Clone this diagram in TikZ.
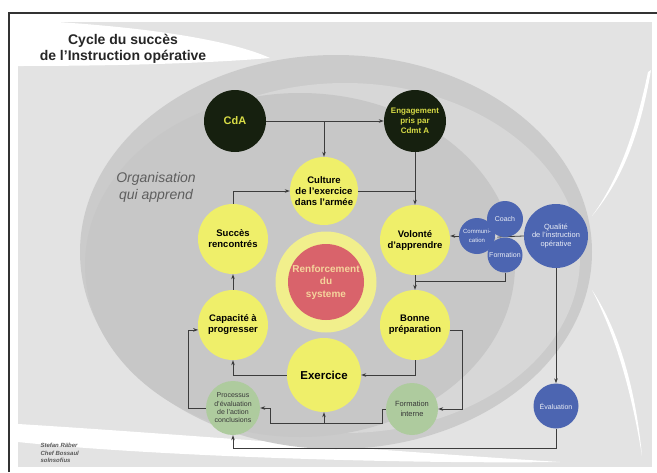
\documentclass[tikz,border=0pt]{standalone}
\usepackage{fontspec}
\setmainfont{Liberation Sans}
\usetikzlibrary{arrows.meta,calc}
\definecolor{bgC}{HTML}{E3E3E3}
\definecolor{gA}{HTML}{CBCBCB}
\definecolor{gB}{HTML}{D7D7D7}
\definecolor{gC}{HTML}{C7C7C7}
\definecolor{yelC}{HTML}{EFEF6A}
\definecolor{ringC}{HTML}{F1EF8C}
\definecolor{redC}{HTML}{D9636B}
\definecolor{redT}{HTML}{F5D49C}
\definecolor{darkC}{HTML}{16200F}
\definecolor{darkT}{HTML}{D8DC46}
\definecolor{greenC}{HTML}{AECB9E}
\definecolor{blueC}{HTML}{4C65B1}
\definecolor{lineC}{HTML}{3C3C3C}
\definecolor{orgT}{HTML}{5E5E5E}
\begin{document}
\begin{tikzpicture}[x=1pt,y=-1pt,
  base/.style={circle,inner sep=0pt,align=center},
  yel/.style={base,fill=yelC,minimum size=70pt,font=\bfseries\fontsize{9.5}{11}\selectfont},
  darkn/.style={base,fill=darkC,minimum size=62pt,text=darkT},
  grn/.style={base,fill=greenC,text=black!78},
  blu/.style={base,fill=blueC,text=white!88!blueC},
  conn/.style={draw=lineC,line width=0.8pt},
  arr/.style={conn,-{Stealth[length=5pt,width=3.6pt]}}
]
\useasboundingbox (0,0) rectangle (657,472);
% background
\fill[white] (0,0) rectangle (657,472);
\fill[bgC] (18,22) rectangle (652,467);
\fill[white] (18,22) -- (57,22) .. controls (150,28) and (230,40) .. (270,58)
  .. controls (200,64) and (100,66) .. (18,66) -- cycle;
\fill[white] (18,424) .. controls (150,432) and (400,452) .. (560,462)
  .. controls (400,464) and (150,456) .. (18,442) -- cycle;
\fill[gA] (336,252) ellipse [x radius=256pt, y radius=197pt];
\fill[gB] (345,258) ellipse [x radius=235pt, y radius=175pt];
\fill[gC] (300,265) ellipse [x radius=215pt, y radius=172pt];
\fill[white] (651,70) .. controls (640,135) and (622,180) .. (592,216)
  .. controls (617,182) and (635,135) .. (648,72) -- cycle;
\fill[white] (592,290) .. controls (620,332) and (636,392) .. (642,456)
  .. controls (632,394) and (616,336) .. (592,290) -- cycle;
\draw[line width=1.2pt,draw=black!80] (9,472) -- (9,13) -- (657,13);
% texts
\node[align=center,font=\bfseries\fontsize{14}{15.5}\selectfont,text=black!85] (title) at (123,49) {Cycle du succès\\de l’Instruction opérative};
\node[align=center,font=\itshape\fontsize{14}{17}\selectfont,text=orgT] (org) at (156,187) {Organisation\\qui apprend};
\node[align=left,anchor=north west,font=\bfseries\itshape\fontsize{6}{7.5}\selectfont,text=black!65] (sig) at (37,440) {Stefan Räber\\Chef Bossaul\\solnsofius};
% nodes
\node[darkn,font=\bfseries\fontsize{11}{13}\selectfont] (cda) at (235,121) {CdA};
\node[darkn,font=\bfseries\fontsize{8}{10}\selectfont] (eng) at (415,121) {Engagement\\pris par\\Cdmt A};
\node[yel,minimum size=68pt] (cult) at (324,191) {Culture\\de l'exercice\\dans l'armée};
\node[yel] (succ) at (233,239) {Succès\\rencontrés};
\node[yel] (vol) at (415,240) {Volonté\\d'apprendre};
\node[base,fill=ringC,minimum size=101pt] (ring) at (326,282) {};
\node[base,fill=redC,minimum size=76pt,text=redT,font=\bfseries\fontsize{10}{12.5}\selectfont] (renf) at (326,282) {Renforcement\\du\\systeme};
\node[yel] (cap) at (233,325) {Capacité à\\progresser};
\node[yel] (bonne) at (415,325) {Bonne\\préparation};
\node[yel,minimum size=74pt,font=\bfseries\fontsize{11.5}{13}\selectfont] (ex) at (324,375) {Exercice};
\node[grn,minimum size=54pt,font=\fontsize{7}{8.3}\selectfont] (proc) at (233,408) {Processus\\d'évaluation\\de l'action\\conclusions};
\node[grn,minimum size=52pt,font=\fontsize{7.5}{10}\selectfont] (fint) at (412,409) {Formation\\interne};
\coordinate (pc) at (497,237);
\node[blu,minimum size=64pt,font=\fontsize{7.5}{8.5}\selectfont] (qual) at (556,236) {Qualité\\de l'instruction\\opérative};
\draw[conn] (pc) -- (qual.west);
\node[blu,minimum size=36pt,font=\fontsize{6}{9}\selectfont] (comm) at (477,236) {Communi-\\cation};
\node[blu,minimum size=36pt,font=\fontsize{7}{8}\selectfont] (coach) at (505,219) {Coach};
\node[blu,minimum size=35pt,font=\fontsize{7}{8}\selectfont] (form) at (505,255) {Formation};
\node[inner sep=0pt,text=white!80!blueC,font=\fontsize{7}{8}\selectfont] (plus) at (pc) {+};
\node[blu,minimum size=45pt,font=\fontsize{7}{8}\selectfont] (eval) at (556,406) {Évaluation};
% connectors
\draw[arr] (cda.east) -- (eng.west);
\draw[arr] (cult.north |- cda.east) -- (cult.north);
\draw[arr] (eng.south) -- (vol.north);
\draw[conn] (cult.east) -- (cult.east -| vol.north);
\draw[arr] (succ.north) |- (cult.west);
\draw[arr] (cap.north) -- (succ.south);
\draw[arr] (vol.south) -- (bonne.north);
\coordinate (j1) at ($(vol.south)!0.4!(bonne.north)$);
\draw[conn] (form.south) |- (j1);
\draw[arr] (comm.west) -- (comm.west -| vol.east);
\draw[arr] (qual.south) -- (eval.north);
\coordinate (bot) at (400,448);
\draw[arr] (eval.south) -- (eval.south |- bot) -| (proc.south);
\coordinate (xr) at (462,330);
\draw[arr] (bonne.-8) -- (bonne.-8 -| xr) |- (fint.east);
\draw[arr] (bonne.south) |- (ex.east);
\draw[arr] (ex.west) -| (cap.south);
\coordinate (f1) at (382,409);
\coordinate (f2) at (382,423);
\coordinate (f3) at (270,423);
\coordinate (f4) at (270,408);
\draw[arr] (fint.west) -- (f1) -- (f2) -- (f3) -- (f4) -- (proc.east);
\draw[arr] (ex.south |- f2) -- (ex.south);
\coordinate (xl) at (188,400);
\draw[arr] (proc.west) -- (proc.west -| xl) |- (cap.188);
\end{tikzpicture}
\end{document}
